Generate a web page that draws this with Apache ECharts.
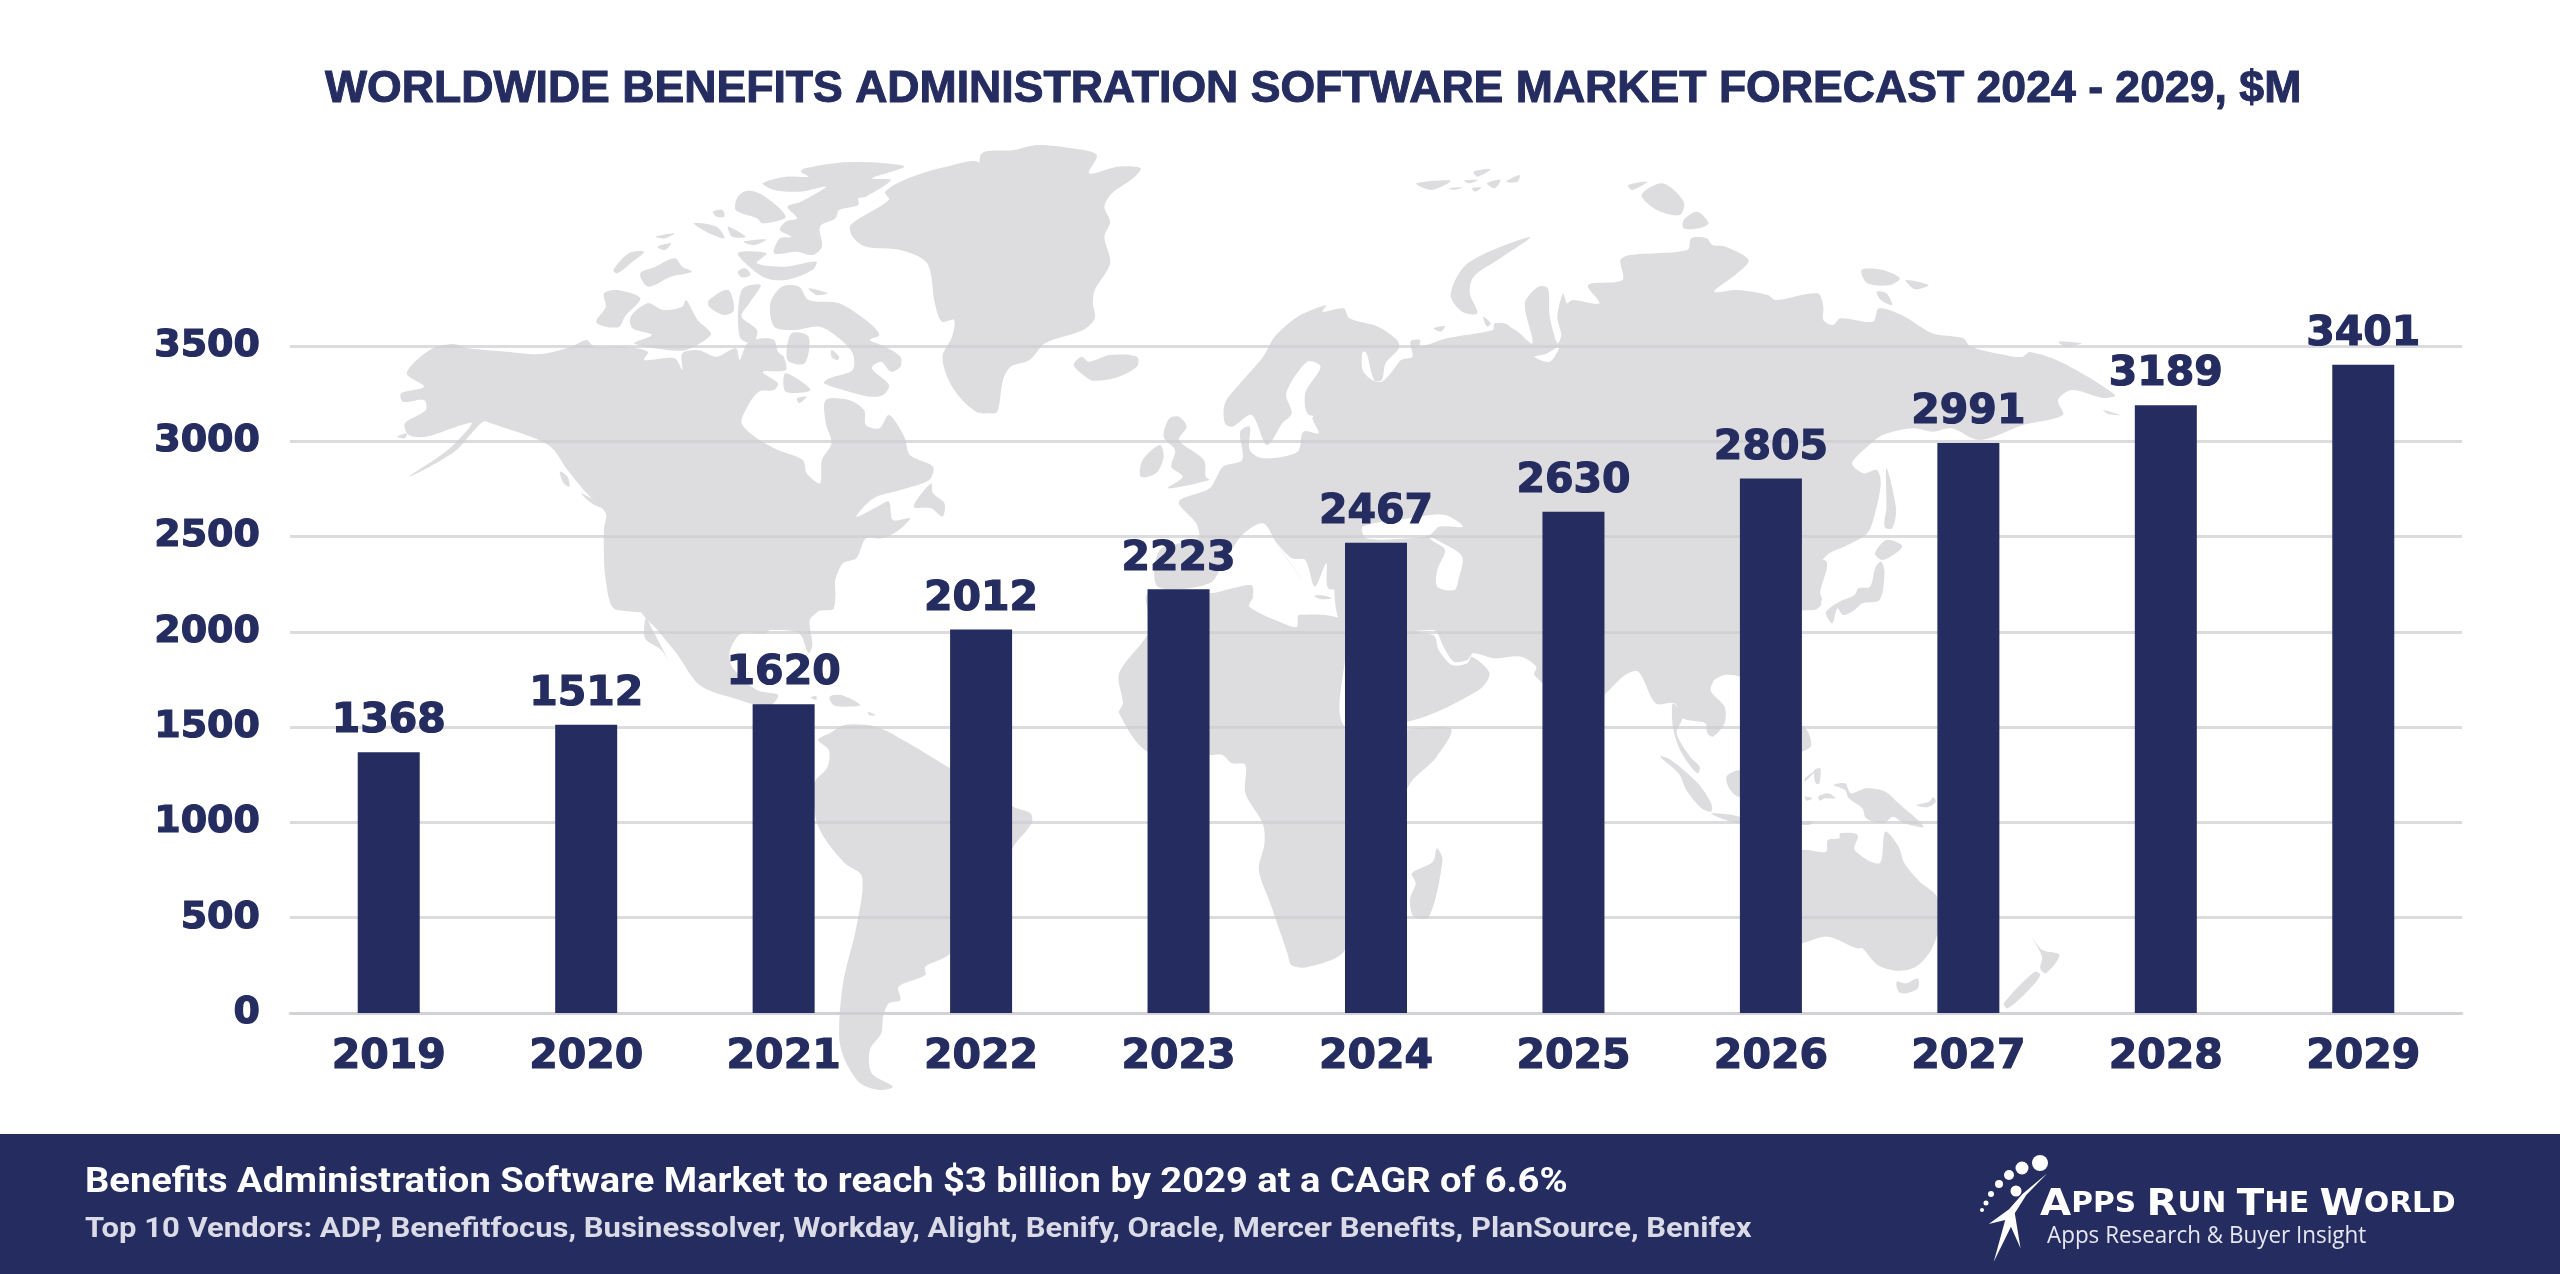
<!DOCTYPE html>
<html>
<head>
<meta charset="utf-8">
<title>Benefits Administration Software Market Forecast</title>
<style>
  html, body { margin: 0; padding: 0; background: #fff; }
  #chart { width: 2560px; height: 1274px; }
</style>
<script src="https://cdn.jsdelivr.net/npm/echarts@6/dist/echarts.min.js"></script>
</head>
<body>
<div id="chart"></div>
<script>
var categories = ['2019', '2020', '2021', '2022', '2023', '2024', '2025', '2026', '2027', '2028', '2029'];
var marketValues = [1368, 1512, 1620, 2012, 2223, 2467, 2630, 2805, 2991, 3189, 3401];
var yMax = 3500;
var yStep = 500;

var titleText = 'WORLDWIDE BENEFITS ADMINISTRATION SOFTWARE MARKET FORECAST 2024 - 2029, $M';
var footerLine1 = 'Benefits Administration Software Market to reach $3 billion by 2029 at a CAGR of 6.6%';
var footerLine2 = 'Top 10 Vendors: ADP, Benefitfocus, Businessolver, Workday, Alight, Benify, Oracle, Mercer Benefits, PlanSource, Benifex';
var logoTagline = 'Apps Research & Buyer Insight';

var NAVY = '#242C60';
var MAP_GREY = '#DDDCDF';
var GRID_LINE = 'rgba(205,205,210,.7)';

// background world map, traced by hand. points are x,y pairs relative to a
// crop origin, 2.613x wide and 3x tall
var mapOutlines = [
  // north america, upper part
  [380, 130, [70,730,130,660,190,642,230,655,330,665,420,672,500,650,540,630,560,650,640,650,700,665,690,690,770,685,790,720,790,670,830,660,880,680,930,655,940,690,960,640,1000,625,1030,630,1040,665,1055,680,1060,720,1000,725,1040,760,1030,780,990,785,960,830,945,880,985,925,1040,960,1105,990,1115,1030,1150,1060,1155,990,1180,940,1165,880,1165,810,1225,810,1265,840,1270,885,1305,895,1330,855,1370,920,1385,975,1445,1010,1435,1050,1360,1080,1290,1105,1245,1160,1300,1130,1330,1115,1340,1170,1385,1165,1350,1205,1310,1225,1270,1225,1245,1285,1210,1300,1190,1350,1190,1400,1180,1440,620,1440,590,1350,585,1200,590,1150,540,1090,490,1020,440,945,290,880,270,875,235,915,200,960,130,1010,75,1040,160,975,200,935,240,880,200,890,120,920,75,915,65,880,120,840,115,810,60,815,55,790,115,770]],
  // arctic canada
  [380, 130, [1110,115,1200,98,1300,98,1370,110,1285,145,1335,150,1270,200,1250,205,1250,225,1200,240,1190,265,1150,290,1155,350,1130,375,1090,365,1030,370,1045,325,1075,320,1045,300,1060,275,1090,265,1065,230,1100,215,1165,170,1100,185,1030,180,1000,160,1060,140,1120,140,1100,125]],
  [380, 130, [935,200,960,182,1000,195,1060,260,1000,280,985,265,930,240]],
  [380, 130, [1020,520,1050,470,1095,470,1120,510,1200,520,1280,580,1305,615,1280,630,1320,650,1360,680,1360,710,1335,725,1310,695,1285,715,1330,765,1315,795,1280,800,1240,790,1160,760,1175,745,1235,720,1235,670,1200,625,1150,590,1080,600,1030,590]],
  [380, 130, [655,560,700,520,740,540,790,530,800,510,830,570,865,610,850,630,800,660,750,660,665,640,710,615,660,595]],
  [380, 130, [585,490,620,480,680,505,640,560,625,590,590,590,565,575,590,530]],
  [380, 130, [610,420,650,370,690,365,660,395,620,430]],
  [380, 130, [680,430,720,410,770,385,790,410,815,425,760,440,700,470]],
  [380, 130, [720,320,770,310,745,325]],
  [380, 130, [725,350,760,340,745,360]],
  [380, 130, [820,280,880,290,900,325,860,310]],
  [380, 130, [910,290,955,320,920,320]],
  [380, 130, [950,335,1010,328,980,345]],
  [380, 130, [870,245,895,240,900,260,880,260]],
  [380, 130, [935,370,1010,370,985,400,1060,410,1140,395,1130,420,1060,450,1000,440]],
  [380, 130, [935,425,955,415,968,435,945,442]],
  [380, 130, [860,510,910,480,925,540,900,555,860,530]],
  [380, 130, [945,480,995,465,965,520,945,560,985,600,975,640,940,620]],
  [380, 130, [1120,475,1170,490,1140,495]],
  [380, 130, [1075,610,1120,620,1110,700,1065,690]],
  [380, 130, [1060,730,1125,780,1060,785]],
  [380, 130, [1180,660,1200,680,1195,690,1180,680]],
  [380, 130, [1090,805,1115,800,1095,820]],
  // newfoundland, vancouver, aleutians
  [380, 130, [1395,1130,1440,1060,1445,1090,1475,1120,1470,1160,1440,1135]],
  [380, 130, [470,1025,490,1040,495,1070,480,1060]],
  [380, 130, [525,1090,560,1110,605,1140,560,1125]],
  [380, 130, [45,920,70,910,65,925]],
  // central america, baja, caribbean
  [600, 610, [110,0,150,60,200,130,260,225,350,265,440,290,465,255,410,240,345,170,340,120,370,70,430,70,445,60,520,70,545,130,555,105,548,30,570,0]],
  [600, 610, [118,85,160,120,178,150,140,65,120,25]],
  [600, 610, [600,260,630,255,680,285,640,290,610,285]],
  [600, 610, [550,262,565,258,565,270]],
  [600, 610, [700,305,720,315,705,316]],
  // south america
  [600, 610, [600,370,640,345,720,350,800,395,915,475,1080,590,1125,610,1128,640,1080,710,915,1030,850,1070,850,1095,780,1130,785,1170,755,1180,740,1220,735,1270,705,1320,710,1390,765,1430,730,1440,680,1420,640,1350,625,1280,635,1120,670,950,685,800,640,760,590,690,565,630,560,520,595,470,598,420,570,390]],
  // greenland
  [980, 130, [0,80,90,60,150,45,240,55,305,75,285,130,360,110,420,115,400,145,345,190,325,230,340,275,325,320,340,400,300,480,295,520,300,565,270,600,170,640,130,690,80,710,60,750,45,845,20,850,0,845]],
  [380, 130, [1568,105,1480,110,1380,145,1320,185,1330,210,1230,285,1235,320,1270,350,1360,360,1430,400,1450,520,1468,575,1500,570,1495,620,1470,680,1490,760,1530,820,1568,845]],
  // iceland, uk, ireland
  [980, 130, [245,705,265,680,285,695,340,675,410,680,410,710,350,745,295,752,270,735]],
  [980, 130, [480,920,495,865,520,860,540,890,520,930,585,990,590,1040,600,1050,490,1075,530,1040,500,1010,510,960]],
  [980, 130, [425,990,470,945,480,980,460,1030,420,1040]],
  // europe and western russia
  [980, 130, [520,1115,600,1075,635,1010,685,990,680,905,705,890,705,960,740,985,830,965,845,905,885,910,870,860,950,840,860,855,850,790,890,710,855,695,800,790,815,850,790,880,750,945,710,855,660,890,640,880,640,820,680,760,740,680,770,620,830,560,905,525,895,545,950,535,965,565,1040,590,1090,630,1095,655,1060,700,1050,750,1030,750,1010,670,1000,665,1000,720,1025,750,1050,755,1080,720,1100,690,1130,680,1125,635,1150,630,1150,650,1220,625,1340,600,1345,580,1380,585,1400,630,1400,1440,955,1440,955,1380,910,1375,905,1300,875,1370,850,1290,815,1285,775,1240,855,1370,775,1240,740,1180,690,1210,640,1290,600,1360,465,1370,470,1260,570,1225,565,1180]],
  // siberia
  [1500, 130, [0,585,40,600,85,640,65,520,100,470,125,475,130,560,150,640,160,615,150,560,165,490,175,520,190,510,260,520,230,465,320,450,315,390,340,375,490,360,500,325,540,325,555,345,590,350,650,390,620,430,560,485,620,480,700,495,720,510,830,490,845,530,845,570,870,585,890,565,975,575,990,535,1050,555,1130,610,1210,625,1230,650,1320,675,1364,681,1385,666,1471,699,1607,795,1576,804,1495,780,1458,810,1471,855,1367,885,1254,930,1180,895,1130,905,1080,895,1000,915,960,950,920,1000,950,1030,985,1020,995,1060,980,1150,960,1210,900,1250,860,1270,830,1310,815,1340,840,1420,820,1440,0,1440]],
  [1500, 130, [1576,840,1620,855,1590,852]],
  [1500, 130, [1460,635,1520,640,1480,650]],
  // middle east and south asia
  [1100, 560, [640,0,1202,0,1202,400,1135,345,1140,320,1100,290,1030,295,975,280,960,300,925,305,900,265,880,215,870,210,640,210]],
  [1100, 560, [870,225,885,270,920,315,960,310,972,290,1018,340,990,390,815,482,700,470,650,210]],
  [1560, 560, [100,0,690,0,680,100,685,120,660,140,640,80,520,100,470,350,400,370,395,395,430,440,430,490,400,530,385,520,380,490,320,475,300,430,250,430,205,335,170,345,120,400,100,415]],
  [1560, 560, [295,430,320,470,305,520,340,590,365,620,360,640,335,610,310,560,295,500]],
  // africa, madagascar, crete
  [1100, 560, [287,100,395,75,400,110,390,140,490,195,515,200,520,165,640,190,640,500,915,505,880,590,805,680,640,1170,540,1222,500,1215,490,1180,445,1030,415,930,430,850,425,790,380,700,380,615,345,610,320,585,287,585,125,575,50,460,60,430,50,340,130,210,125,100]],
  [1100, 560, [815,940,870,905,880,865,895,900,860,1070,820,1070,810,1020,825,970]],
  [1100, 560, [560,108,580,106,605,114,580,118]],
  // arctic russia
  [980, 130, [1230,495,1265,410,1340,360,1438,322,1360,385,1290,440,1280,490,1300,550,1260,545]],
  [980, 130, [1185,595,1215,588,1205,605]],
  [980, 130, [1315,560,1335,580,1325,590]],
  [980, 130, [1140,160,1230,152,1180,180]],
  [980, 130, [1290,125,1335,118,1300,140]],
  [980, 130, [1265,152,1300,150,1280,160]],
  [980, 130, [1325,160,1360,150,1345,175]],
  [980, 130, [1375,155,1410,135,1405,155]],
  [980, 130, [1285,175,1310,172,1295,185]],
  [980, 130, [1225,175,1260,172,1240,180]],
  [1500, 130, [370,195,425,160,480,215,470,255,410,240]],
  [1500, 130, [335,165,385,155,345,180]],
  [1500, 130, [480,270,515,245,545,280,520,295,480,295]],
  [1500, 130, [945,420,1000,420,1045,445,1020,465,960,460]],
  [1500, 130, [1060,450,1120,465,1085,478]],
  [1500, 130, [985,485,1010,490,1025,525,995,510]],
  // japan, sakhalin
  [1560, 560, [700,175,695,155,730,125,770,105,780,85,810,80,825,20,840,5,848,40,835,120,790,130,770,150,740,165,725,145,712,190]],
  [1500, 130, [980,1270,1010,1230,1050,1245,1045,1260,1000,1290]],
  [1500, 130, [1010,1015,1035,1135,1025,1195,1005,1190,1010,1130]],
  // south east asia and oceania
  [1560, 560, [262,590,290,600,360,670,395,730,395,755,370,745,330,690,310,640]],
  [1560, 560, [395,760,470,770,470,790,420,775]],
  [1560, 560, [435,650,470,630,520,650,470,710,445,690]],
  [1560, 560, [665,630,680,625,678,670,668,670]],
  [1560, 560, [640,655,670,630,640,665]],
  [1560, 560, [600,480,645,510,655,560,610,575]],
  [1560, 560, [640,710,660,715,645,722]],
  [1560, 560, [675,710,700,700,720,715,690,715,680,722]],
  [1560, 560, [715,675,745,670,760,700,800,685,850,695,885,730,950,800,900,790,870,770,845,790,800,775,790,745,755,715,745,690]],
  [1560, 560, [932,735,965,725,975,712,982,725,960,742]],
  [1560, 560, [600,790,660,785,650,795]],
  [1560, 560, [540,900,633,870,695,875,700,840,730,835,732,820,778,825,770,870,835,910,850,815,885,860,900,910,940,965,985,1010,990,1100,970,1170,930,1220,880,1232,830,1215,790,1165,775,1165,700,1130,633,1150,540,1170]],
  [1560, 560, [880,1265,905,1270,935,1255,935,1285,905,1300,885,1295]],
  [1560, 560, [1235,1135,1260,1170,1305,1185,1270,1240,1255,1225,1260,1190]],
  [1560, 560, [1160,1330,1240,1235,1255,1245,1225,1290,1170,1345]]
];

// inland seas, painted white over the land
var mapSeas = [
  [980, 130, [1000,1190,1120,1165,1215,1155,1262,1190,1200,1190,1175,1215,1120,1225,1010,1225]],
  [980, 130, [1175,1220,1210,1240,1260,1280,1250,1350,1240,1380,1195,1370,1195,1320,1215,1260,1180,1230]],
  [1500, 130, [90,680,130,695,155,650,120,672]],
  [1560, 560, [400,365,430,345,470,350,470,370,440,400,405,400]]
];

function cropPoints(entry) {
  var pts = [];
  for (var i = 0; i < entry[2].length; i += 2) {
    pts.push([entry[0] + entry[2][i] / 2.6133, entry[1] + entry[2][i + 1] / 3]);
  }
  return pts;
}

function mapPolygon(entry, color) {
  return {
    type: 'polygon',
    z: -2,
    silent: true,
    shape: { points: cropPoints(entry), smooth: 0.3 },
    style: { fill: color }
  };
}

var mapElements = mapOutlines.map(function (o) { return mapPolygon(o, MAP_GREY); })
  .concat(mapSeas.map(function (o) { return mapPolygon(o, '#fff'); }));

// footer band and logo
var logoDots = [[2040,1163,8],[2022,1168,6.5],[2009,1175,5],[1999,1184,4],[1991,1194,3],[1986,1203,2.5],[1982,1210,2],[2016,1191,5.5]];
var logoBody = [1900, 1120, [385,160,330,225,300,280,315,385,290,320,245,425,275,300,232,312,285,268,320,222]];

var footerElements = [
  { type: 'rect', z: 5, shape: { x: 0, y: 1134, width: 2560, height: 140 }, style: { fill: NAVY } },
  { type: 'text', z: 6, x: 85, y: 1183, scaleX: 1.089, style: { text: footerLine1, fill: '#fff', font: 'bold 35px Roboto', textVerticalAlign: 'middle' } },
  { type: 'text', z: 6, x: 85, y: 1230, scaleX: 1.107, style: { text: footerLine2, fill: '#DADBE6', font: 'bold 28px Roboto', textVerticalAlign: 'middle' } },
  { type: 'polygon', z: 6, shape: { points: cropPoints(logoBody) }, style: { fill: '#fff' } },
  { type: 'text', z: 6, x: 2040, y: 1205, scaleX: 1.06, style: {
      text: '{a|A}{b|PPS }{a|R}{b|UN }{a|T}{b|HE }{a|W}{b|ORLD}',
      textVerticalAlign: 'middle',
      rich: {
        a: { fontFamily: 'DejaVu Sans', fontWeight: 'bold', fontSize: 38, fill: '#fff', color: '#fff' },
        b: { fontFamily: 'DejaVu Sans', fontWeight: 'bold', fontSize: 28, fill: '#fff', color: '#fff' }
      }
  } },
  { type: 'text', z: 6, x: 2047, y: 1236, scaleX: 0.975, style: { text: logoTagline, fill: '#E6E7F0', font: '23px "Open Sans"', textVerticalAlign: 'middle' } }
].concat(logoDots.map(function (d) {
  return { type: 'circle', z: 6, shape: { cx: d[0], cy: d[1], r: d[2] }, style: { fill: '#fff' } };
}));

var myChart = echarts.init(document.getElementById('chart'));
var option = {
    backgroundColor: '#fff',
    animation: false,
    title: {
        text: titleText,
        left: 320,
        top: 62,
        textStyle: { color: NAVY, fontFamily: 'Liberation Sans', fontWeight: 'bold', fontSize: 44.6, textBorderColor: NAVY, textBorderWidth: 1 }
    },
    grid: { left: 290, right: 98, top: 346, bottom: 261 },
    xAxis: {
        type: 'category',
        data: categories,
        axisTick: { show: false },
        axisLine: { lineStyle: { color: GRID_LINE, width: 3 } },
        axisLabel: { color: NAVY, fontFamily: 'DejaVu Sans', fontWeight: 'bold', fontSize: 41, margin: 24, textBorderColor: NAVY, textBorderWidth: 1.2 }
    },
    yAxis: {
        type: 'value',
        min: 0,
        max: yMax,
        interval: yStep,
        axisLine: { show: false },
        axisTick: { show: false },
        axisLabel: {
            formatter: function (v) { return String(v); },
            color: NAVY,
            fontFamily: 'DejaVu Sans',
            fontWeight: 'bold',
            fontSize: 38,
            margin: 30,
            padding: [0, 0, 6, 0],
            textBorderColor: NAVY,
            textBorderWidth: 1.2
        },
        splitLine: { lineStyle: { color: GRID_LINE, width: 3 } }
    },
    series: [{
        type: 'bar',
        data: marketValues,
        barWidth: 62,
        itemStyle: { color: NAVY },
        label: {
            show: true,
            position: 'top',
            distance: 10,
            color: NAVY,
            fontFamily: 'DejaVu Sans',
            fontWeight: 'bold',
            fontSize: 41,
            textBorderColor: NAVY,
            textBorderWidth: 1.2
        }
    }],
    graphic: { elements: mapElements.concat(footerElements) }
};

myChart.setOption(option);
</script>
</body>
</html>
